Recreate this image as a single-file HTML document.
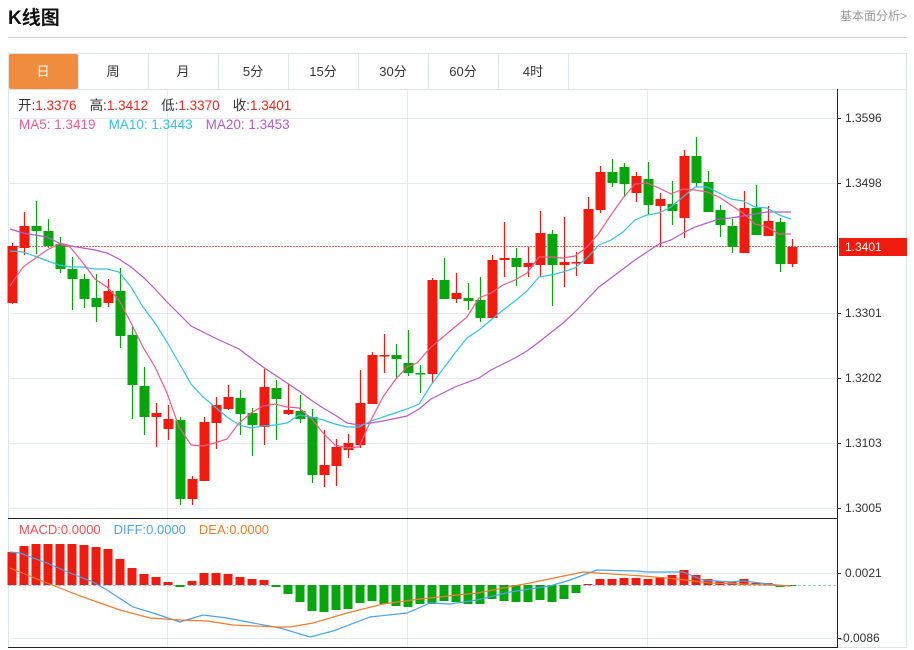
<!DOCTYPE html>
<html><head><meta charset="utf-8">
<style>
body{margin:0;background:#fff;width:914px;height:650px;overflow:hidden;font-family:"Liberation Sans","Noto Sans CJK SC",sans-serif;}
svg{position:absolute;left:0;top:0}
</style></head><body>
<svg id="s" width="914" height="650" xmlns="http://www.w3.org/2000/svg" font-family="Liberation Sans, Noto Sans CJK SC, sans-serif">
<text x="8" y="24" font-size="19" font-weight="bold" fill="#111">K线图</text>
<text x="907" y="20" font-size="12" fill="#999" text-anchor="end">基本面分析&gt;</text>
<line x1="8" y1="37.5" x2="907" y2="37.5" stroke="#d4d4d4"/>
<rect x="8.5" y="53.5" width="898" height="594" fill="none" stroke="#dde3ea"/>
<line x1="8" y1="89.5" x2="907" y2="89.5" stroke="#dde3ea"/>
<rect x="9" y="54" width="69" height="35" fill="#f08c3e" rx="2"/>
<g font-size="13" text-anchor="middle" fill="#333">
<text x="43" y="76" fill="#fff">日</text><text x="113" y="76">周</text><text x="183" y="76">月</text><text x="253" y="76">5分</text><text x="323" y="76">15分</text><text x="393" y="76">30分</text><text x="463" y="76">60分</text><text x="533" y="76">4时</text>
</g>
<g stroke="#dde3ea"><line x1="148.5" y1="54" x2="148.5" y2="89"/><line x1="218.5" y1="54" x2="218.5" y2="89"/><line x1="288.5" y1="54" x2="288.5" y2="89"/><line x1="358.5" y1="54" x2="358.5" y2="89"/><line x1="428.5" y1="54" x2="428.5" y2="89"/><line x1="498.5" y1="54" x2="498.5" y2="89"/><line x1="568.5" y1="54" x2="568.5" y2="89"/><line x1="78.5" y1="54" x2="78.5" y2="89"/></g>
<g stroke="#e3ebf2">
<line x1="8" y1="118.5" x2="837" y2="118.5"/><line x1="8" y1="183.5" x2="837" y2="183.5"/><line x1="8" y1="313.5" x2="837" y2="313.5"/><line x1="8" y1="378.5" x2="837" y2="378.5"/><line x1="8" y1="443.5" x2="837" y2="443.5"/><line x1="8" y1="508.5" x2="837" y2="508.5"/>
<line x1="8" y1="573.5" x2="837" y2="573.5"/><line x1="8" y1="638.5" x2="837" y2="638.5"/>
<line x1="167.5" y1="89" x2="167.5" y2="647"/><line x1="407.5" y1="89" x2="407.5" y2="647"/><line x1="647.5" y1="89" x2="647.5" y2="647"/>
</g>
<line x1="8" y1="518.5" x2="837" y2="518.5" stroke="#222"/>
<line x1="8" y1="647.5" x2="837" y2="647.5" stroke="#222"/>
<line x1="837.5" y1="89" x2="837.5" y2="648" stroke="#222"/>
<g font-size="12" fill="#333">
<line x1="837" y1="118.5" x2="841" y2="118.5" stroke="#333"/><text x="845" y="122">1.3596</text>
<line x1="837" y1="183.5" x2="841" y2="183.5" stroke="#333"/><text x="845" y="187">1.3498</text>
<line x1="837" y1="313.5" x2="841" y2="313.5" stroke="#333"/><text x="845" y="317">1.3301</text>
<line x1="837" y1="378.5" x2="841" y2="378.5" stroke="#333"/><text x="845" y="382">1.3202</text>
<line x1="837" y1="443.5" x2="841" y2="443.5" stroke="#333"/><text x="845" y="447">1.3103</text>
<line x1="837" y1="508.5" x2="841" y2="508.5" stroke="#333"/><text x="845" y="512">1.3005</text>
<line x1="837" y1="573.5" x2="841" y2="573.5" stroke="#333"/><text x="845" y="577">0.0021</text>
<line x1="837" y1="638.5" x2="841" y2="638.5" stroke="#333"/><text x="839" y="642">-0.0086</text>
</g>
<line x1="8" y1="246.5" x2="837" y2="246.5" stroke="#f06060" stroke-dasharray="2,1"/>
<line x1="8" y1="585.5" x2="837" y2="585.5" stroke="#9cc8e0" stroke-dasharray="3,2"/>
<rect x="839" y="238" width="68" height="18" fill="#f01a0e"/>
<text x="845" y="251" font-size="12" fill="#fff">1.3401</text>
<g id="c"></g>
<g font-size="13.5">
<text x="18" y="110"><tspan fill="#333">开:</tspan><tspan fill="#f0261e">1.3376</tspan><tspan fill="#333" dx="13">高:</tspan><tspan fill="#f0261e">1.3412</tspan><tspan fill="#333" dx="13">低:</tspan><tspan fill="#f0261e">1.3370</tspan><tspan fill="#333" dx="13">收:</tspan><tspan fill="#f0261e">1.3401</tspan></text>
<text x="19" y="129"><tspan fill="#f05a8a">MA5: 1.3419</tspan><tspan fill="#33c3df" dx="13">MA10: 1.3443</tspan><tspan fill="#b35cc9" dx="13">MA20: 1.3453</tspan></text>
</g>
<text x="19" y="534" font-size="13"><tspan fill="#f05050">MACD:0.0000</tspan><tspan fill="#4aa3e8" dx="13">DIFF:0.0000</tspan><tspan fill="#f07c2c" dx="13">DEA:0.0000</tspan></text>
</svg>
<script>
var C=[[1,246,303,243,304],[1,226,248,212,255],[0,226,231,201,254],[0,231,246,219,248],[0,244,269,237,273],[0,269,279,257,310],[0,279,299,274,308],[0,298,307,274,322],[1,291,303,279,307],[0,291,336,268,348],[0,335,385,327,419],[0,386,417,367,435],[1,413,417,403,447],[1,419,429,405,440],[0,420,499,417,505],[1,479,499,476,505],[1,422,481,417,481],[1,405,423,397,449],[1,397,409,385,410],[0,398,414,390,435],[0,413,425,408,456],[1,387,427,369,445],[0,388,399,380,440],[1,410,414,384,415],[0,411,419,395,423],[0,417,475,409,483],[1,465,475,430,487],[1,447,466,439,486],[1,443,450,434,458],[1,403,445,370,448],[1,355,404,352,404],[1,355,356,334,373],[0,355,359,344,379],[0,363,373,330,376],[0,373,374,365,393],[1,280,374,278,383],[0,280,299,258,299],[1,293,299,273,303],[0,298,301,283,310],[0,300,318,277,322],[1,260,318,255,318],[1,258,260,222,277],[0,258,267,248,286],[1,263,267,247,277],[1,233,265,211,277],[0,234,265,230,306],[1,262,265,217,287],[1,262,263,252,276],[1,209,264,197,264],[1,172,210,166,213],[0,172,183,159,187],[0,167,184,163,197],[1,176,193,172,202],[0,179,205,162,214],[1,199,206,193,247],[0,204,211,181,225],[1,156,218,150,238],[0,156,183,137,187],[0,182,212,171,212],[0,210,225,205,237],[0,226,247,219,253],[1,208,253,191,253],[0,208,235,185,235],[1,221,236,206,236],[0,222,264,218,272],[1,247,264,239,267]];
var M=[552,546,544,544,544,544,545,547,549,559,568,574,577,582,587,581,573,573,574,577,579,580,587,594,602,611,612,610,609,603,601,604,606,607,604,604,601,602,604,604,599,601,602,602,600,602,599,593,584,579,579,578,578,579,577,575,570,575,579,581,582,579,583,583,587,586];
var h='';
function X(i){return 12+12*i;}
M.forEach(function(v,i){var x=X(i)-4.5;var t=Math.min(v,585),b=Math.max(v,585);if(b-t<1)b=t+1;h+='<rect x="'+x+'" y="'+t+'" width="9" height="'+(b-t)+'" fill="'+(v<=585?'#f01a0e':'#05a50c')+'"/>';});
C.forEach(function(c,i){var x=X(i),col=c[0]?'#f01a0e':'#05a50c';h+='<line x1="'+(x+0.5)+'" y1="'+c[3]+'" x2="'+(x+0.5)+'" y2="'+c[4]+'" stroke="'+col+'" stroke-width="1.2"/>';var hh=Math.max(c[2]-c[1],1.5);h+='<rect x="'+(x-4.5)+'" y="'+c[1]+'" width="10" height="'+hh+'" fill="'+col+'"/>';});
function P(a,col){return '<polyline fill="none" stroke="'+col+'" stroke-width="1.2" points="'+a+'"/>';}
h+=P("10,229 23,233 47,237 59,243 71,246 83,248 95,250 107,253 119,259 131,267 143,277 155,289 167,302 179,314 191,326 215,338 239,349 263,367 287,383 299,391 311,400 323,408 335,415 347,423 359,425 383,421 407,416 419,409 431,399 455,387 479,378 491,370 515,358 527,351 539,342 563,323 575,312 599,287 611,278 635,260 659,244 671,240 683,233 695,227 707,223 719,219 731,218 743,216 755,214 767,212 779,212 791,212","#b35cc9");
h+=P("10,251 23,252 37,257 59,265 71,267 83,267 95,269 107,269 119,272 131,287 143,307 155,323 167,342 179,363 191,384 203,397 215,407 227,417 239,425 251,428 263,426 275,425 287,423 299,415 311,417 323,420 335,424 347,427 359,427 371,421 383,417 395,413 407,409 419,404 431,385 443,369 455,353 467,338 479,330 491,320 503,310 515,301 527,291 539,277 551,275 563,272 575,268 587,258 599,245 611,240 623,232 635,220 647,215 659,213 671,207 683,197 695,187 707,187 719,193 731,199 743,201 755,207 767,208 779,215 791,219","#33c3df");
h+=P("10,286 23,267 47,250 59,244 70,247 83,263 95,279 107,287 119,300 131,323 143,347 155,367 167,393 179,427 191,445 203,446 215,443 227,439 239,423 251,413 263,406 275,404 287,407 299,408 311,418 323,433 335,445 347,448 359,447 371,420 383,397 395,380 407,367 417,363 431,347 443,337 455,327 467,317 479,298 491,293 503,285 515,280 527,273 539,257 551,257 563,258 575,256 587,247 599,233 611,215 623,198 635,184 647,183 659,188 671,194 683,189 695,190 707,192 719,197 731,205 743,213 755,224 767,227 779,234 791,234","#f05a8a");
h+=P("10,552 20,553 47,563 70,573 93,582 107,590 133,607 153,613 180,622 203,615 227,618 253,623 280,628 310,637 333,631 370,617 407,613 430,603 450,604 477,600 510,592 550,586 570,580 597,570 637,571 647,572 683,572 703,580 730,582 743,581 760,583 777,585 790,586","#4aa3e8");
h+=P("10,568 47,583 83,597 120,610 150,618 180,620 207,621 233,625 277,627 290,627 313,623 347,613 383,604 420,599 477,593 530,583 583,572 597,573 643,576 677,579 710,583 743,584 790,586","#f07c2c");
document.getElementById('c').innerHTML=h;
</script>
</body></html>
